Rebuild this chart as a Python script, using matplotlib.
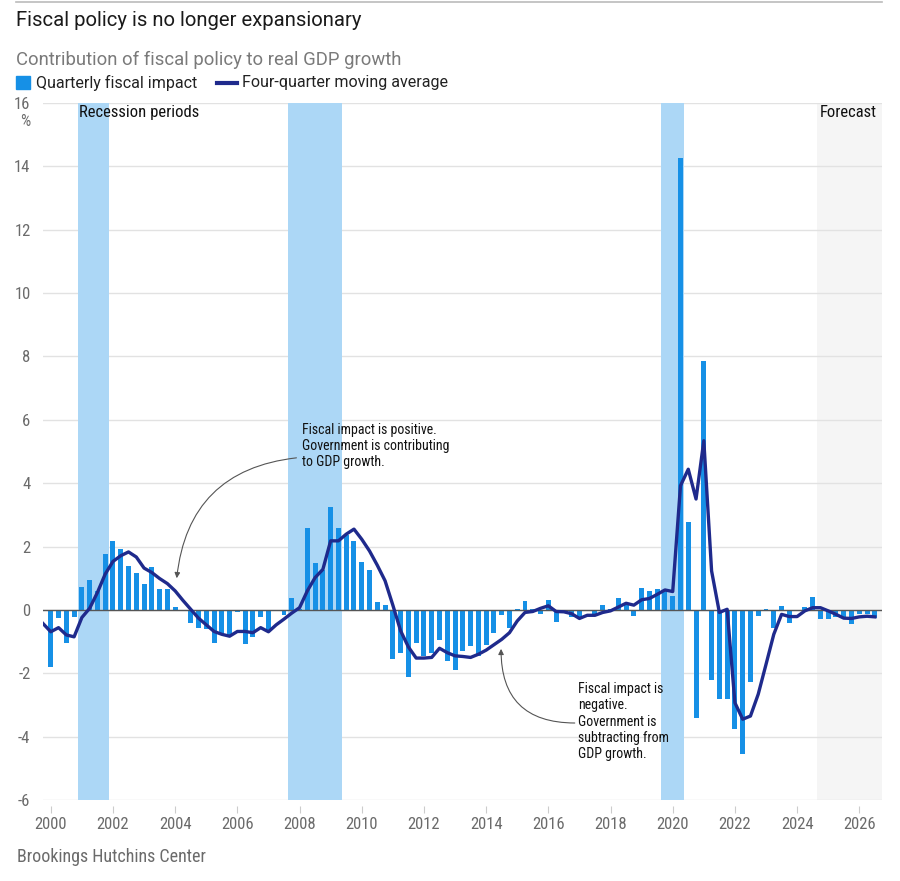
import numpy as np
import matplotlib.pyplot as plt

plt.rcParams['axes.unicode_minus'] = False

# quarterly fiscal impact, 2000Q1 .. 2026Q3 (percentage points)
bar_start = 2000.0
fiscal_impact = [
    -1.79, -0.27, -1.05, -0.21,   # 2000
    0.71, 0.95, 0.60, 1.78,       # 2001
    2.17, 1.91, 1.39, 1.17,       # 2002
    0.81, 1.36, 0.65, 0.65,       # 2003
    0.10, -0.03, -0.40, -0.56,    # 2004
    -0.61, -1.05, -0.72, -0.82,   # 2005
    -0.08, -1.08, -0.84, -0.22,   # 2006
    -0.64, -0.02, -0.15, 0.39,    # 2007
    0.03, 2.60, 1.49, 1.26,       # 2008
    3.26, 2.60, 2.38, 2.19,       # 2009
    1.50, 1.26, 0.26, 0.15,       # 2010
    -1.55, -1.37, -2.12, -1.03,   # 2011
    -1.47, -1.36, -0.94, -1.62,   # 2012
    -1.90, -1.30, -1.13, -1.44,   # 2013
    -1.10, -0.72, -0.17, -0.58,   # 2014
    0.04, 0.28, 0.02, -0.14,      # 2015
    0.30, -0.38, -0.05, -0.22,    # 2016
    -0.30, -0.03, -0.14, 0.15,    # 2017
    0.02, 0.37, 0.23, -0.19,      # 2018
    0.70, 0.60, 0.65, 0.60,       # 2019
    0.44, 14.25, 2.76, -3.42,     # 2020
    7.87, -2.22, -2.80, -2.80,    # 2021
    -3.75, -4.55, -2.28, -0.19,   # 2022
    0.02, -0.56, 0.13, -0.41,     # 2023
    -0.02, 0.10, 0.42, -0.28,     # 2024
    -0.28, -0.23, -0.23, -0.43,   # 2025
    -0.14, -0.12, -0.24,          # 2026
]

# four-quarter moving average, 1999Q4 .. 2026Q3
ma_start = 1999.75
moving_avg = [
    -0.43,
    -0.69, -0.56, -0.79, -0.85,
    -0.24, 0.05, 0.55, 1.13,
    1.53, 1.71, 1.83, 1.67,
    1.32, 1.18, 0.99, 0.83,
    0.60, 0.30, 0.02, -0.26,
    -0.47, -0.68, -0.77, -0.83,
    -0.68, -0.68, -0.72, -0.56,
    -0.69, -0.47, -0.29, -0.10,
    0.07, 0.60, 1.02, 1.28,
    2.18, 2.18, 2.39, 2.55,
    2.23, 1.86, 1.41, 0.92,
    0.15, -0.66, -1.17, -1.52,
    -1.52, -1.50, -1.21, -1.35,
    -1.45, -1.47, -1.50, -1.40,
    -1.27, -1.10, -0.93, -0.72,
    -0.35, -0.08, -0.05, 0.05,
    0.13, -0.05, -0.06, -0.12,
    -0.27, -0.17, -0.17, -0.08,
    -0.03, 0.09, 0.21, 0.15,
    0.32, 0.36, 0.49, 0.63,
    0.58, 3.92, 4.44, 3.50,
    5.34, 1.23, -0.08, 0.02,
    -2.93, -3.45, -3.35, -2.66,
    -1.72, -0.77, -0.14, -0.21,
    -0.21, -0.03, 0.07, 0.07,
    -0.03, -0.14, -0.26, -0.27,
    -0.22, -0.20, -0.22,
]

recessions = [(2000.875, 2001.875), (2007.625, 2009.375), (2019.625, 2020.375)]
forecast_start = 2024.625
year_ticks = list(range(2000, 2027, 2))
y_ticks = list(range(-6, 17, 2))

BAR = '#1690e6'
BAND = '#acd7f6'
LINE = '#1f2a8c'
GREY = '#6b6b6b'
MAIN = ['Roboto', 'DejaVu Sans']
COND = ['Roboto Condensed', 'DejaVu Sans']
ST = 'condensed'

W, H = 900, 881
fig = plt.figure(figsize=(W / 100, H / 100), dpi=100)

def fx(px):
    return px / W

def fy(py):
    return 1 - py / H

ax = fig.add_axes([fx(43), fy(800), (882 - 43) / W, (800 - 103) / H])

bar_x = bar_start + 0.25 * np.arange(len(fiscal_impact))
ma_x = ma_start + 0.25 * np.arange(len(moving_avg))

ax.axvspan(forecast_start, 2030, color='#f5f5f5', zorder=0, lw=0)
for a, b in recessions:
    ax.axvspan(a, b, color=BAND, zorder=1.5, lw=0)
ax.bar(bar_x, fiscal_impact, width=0.16, color=BAR, zorder=2)
ax.axhline(0, color='#555555', lw=1.0, zorder=3)
ax.plot(ma_x, moving_avg, color=LINE, lw=2.4, zorder=4, solid_joinstyle='round')

ax.set_xlim(1999.75, 2026.73)
ax.set_ylim(-6, 16)
ax.set_yticks(y_ticks)
ax.set_xticks(year_ticks)
ax.grid(axis='y', color='#e2e2e2', lw=1.0, zorder=1)
ax.set_axisbelow(True)
for s in ax.spines.values():
    s.set_visible(False)
ax.spines['bottom'].set_position(('outward', 4))
ax.tick_params(axis='y', length=0, pad=9, labelsize=12, labelcolor=GREY)
ax.tick_params(axis='x', length=5, width=0.8, color='#cccccc', pad=3,
               labelsize=12, labelcolor=GREY)
for lab in ax.get_xticklabels() + ax.get_yticklabels():
    lab.set_family(COND)
    lab.set_stretch(ST)

# labels inside the plot
ax.text(2000.92, 15.7, 'Recession periods', family=COND, stretch=ST, fontsize=12,
        color='#111111', va='center', ha='left', zorder=5)
ax.text(2026.57, 15.7, 'Forecast', family=COND, stretch=ST, fontsize=12,
        color='#111111', va='center', ha='right', zorder=5)

ax.text(2008.08, 5.9, 'Fiscal impact is positive.\nGovernment is contributing\nto GDP growth.',
        family=COND, stretch=ST, fontsize=10, color='#111111', va='top', ha='left',
        linespacing=1.2, zorder=5)
ax.annotate('', xy=(2004.05, 1.0), xytext=(2007.9, 4.8),
            arrowprops=dict(arrowstyle='-|>', connectionstyle='arc3,rad=0.4',
                            color='#555555', lw=0.8, mutation_scale=8,
                            shrinkA=0, shrinkB=0), zorder=5)

ax.text(2016.95, -2.28, 'Fiscal impact is\nnegative.\nGovernment is\nsubtracting from\nGDP growth.',
        family=COND, stretch=ST, fontsize=10, color='#111111', va='top', ha='left',
        linespacing=1.2, zorder=5)
ax.annotate('', xy=(2014.48, -1.23), xytext=(2016.85, -3.57),
            arrowprops=dict(arrowstyle='-|>', connectionstyle='arc3,rad=-0.5',
                            color='#555555', lw=0.8, mutation_scale=8,
                            shrinkA=0, shrinkB=0), zorder=5)

# header
fig.add_artist(plt.Line2D([fx(16), fx(882)], [fy(2), fy(2)], color='#bbbbbb', lw=1.2))
fig.text(fx(16), fy(21), 'Fiscal policy is no longer expansionary', family=MAIN,
         fontsize=14.6, color='#1a1a1a', va='center', ha='left')
fig.text(fx(16), fy(60), 'Contribution of fiscal policy to real GDP growth', family=MAIN,
         fontsize=13.3, color='#7a7a7a', va='center', ha='left')

fig.patches.append(plt.Rectangle((fx(16), fy(89)), 14 / W, 13 / H, color=BAR,
                                 transform=fig.transFigure, figure=fig))
fig.text(fx(36), fy(83), 'Quarterly fiscal impact', family=MAIN, fontsize=11.5,
         color='#222222', va='center', ha='left')
fig.add_artist(plt.Line2D([fx(217), fx(237)], [fy(83), fy(83)], color=LINE, lw=3))
fig.text(fx(242), fy(83), 'Four-quarter moving average', family=MAIN, fontsize=11.5,
         color='#222222', va='center', ha='left')

fig.text(fx(25), fy(121), '%', family=COND, stretch=ST, fontsize=11.5, color=GREY,
         va='center', ha='center')
fig.text(fx(17), fy(857), 'Brookings Hutchins Center', family=COND, stretch=ST,
         fontsize=13, color=GREY, va='center', ha='left')

fig.savefig('out.png', dpi=100)
